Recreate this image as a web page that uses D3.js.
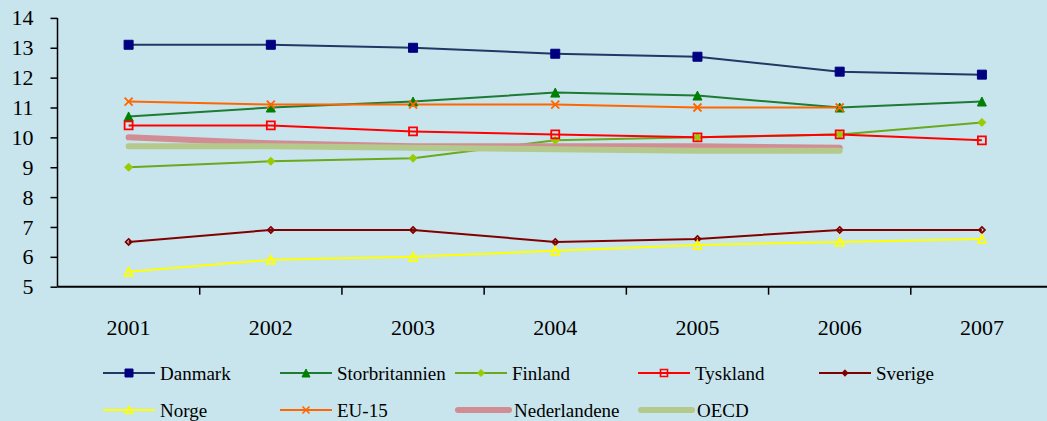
<!DOCTYPE html>
<html>
<head>
<meta charset="utf-8">
<script src="https://cdn.jsdelivr.net/npm/d3@7"></script>
<style>
  html, body { margin: 0; padding: 0; background: #c8e5ed; }
  svg { display: block; }
</style>
</head>
<body>
<svg id="chart" width="1047" height="421"></svg>
<script>
// Years on the category axis
const years = ["2001", "2002", "2003", "2004", "2005", "2006", "2007"];
const yTicks = [5, 6, 7, 8, 9, 10, 11, 12, 13, 14];

// Series values per year (null = no value)
const danmark        = [13.1, 13.1, 13.0, 12.8, 12.7, 12.2, 12.1];
const storbritannien = [10.7, 11.0, 11.2, 11.5, 11.4, 11.0, 11.2];
const finland        = [9.0, 9.2, 9.3, 9.9, 10.0, 10.1, 10.5];
const tyskland       = [10.4, 10.4, 10.2, 10.1, 10.0, 10.1, 9.9];
const sverige        = [6.5, 6.9, 6.9, 6.5, 6.6, 6.9, 6.9];
const norge          = [5.5, 5.9, 6.0, 6.2, 6.4, 6.5, 6.6];
const eu15           = [11.2, 11.1, 11.1, 11.1, 11.0, 11.0, null];
const nederlandene   = [10.0, 9.8, 9.7, 9.7, 9.7, 9.65, null];
const oecd           = [9.7, 9.7, 9.65, 9.6, 9.55, 9.55, null];

const FONT = "'Liberation Serif', Tinos, 'Times New Roman', Times, 'DejaVu Serif', serif";

const series = [
  { name: "Danmark",        values: danmark,        line: "#1f3864", marker: "square",   fill: "#000080", stroke: "#000080", size: 9 },
  { name: "Storbritannien", values: storbritannien, line: "#1e7b34", marker: "triangle", fill: "#008000", stroke: "#008000", size: 9 },
  { name: "Finland",        values: finland,        line: "#6aa81e", marker: "diamond",  fill: "#99cc00", stroke: "#99cc00", size: 8 },
  { name: "Tyskland",       values: tyskland,       line: "#ff0000", marker: "square",   fill: "none",    stroke: "#ff0000", size: 8 },
  { name: "Sverige",        values: sverige,        line: "#800000", marker: "diamond",  fill: "none",    stroke: "#800000", size: 6 },
  { name: "Norge",          values: norge,          line: "#ffff00", marker: "triangle", fill: "none",    stroke: "#ffff00", size: 8 },
  { name: "EU-15",          values: eu15,           line: "#ff6600", marker: "cross",    fill: "none",    stroke: "#ff6600", size: 8 },
  { name: "Nederlandene",   values: nederlandene,   line: "#d28c94", marker: null, thick: true },
  { name: "OECD",           values: oecd,           line: "#b4c98c", marker: null, thick: true }
];

const svg = d3.select("#chart").attr("font-family", FONT);

const x = d3.scaleBand().domain(years).range([57.5, 1053]).paddingInner(0).paddingOuter(0);
const y = d3.scaleLinear().domain([5, 14]).range([286.7, 17.9]);
const cx = d => x(d) + x.bandwidth() / 2;

// Axes
const yAxis = d3.axisLeft(y).tickValues(yTicks).tickSize(7).tickPadding(17).tickFormat(d3.format("d"));
const gy = svg.append("g").attr("transform", "translate(57.5,0)").call(yAxis)
  .attr("font-family", FONT).attr("font-size", 22);
gy.select(".domain").attr("stroke", "#000").attr("stroke-width", 1.5).attr("d", `M0,${y(14)}V${y(5)}`);
gy.selectAll(".tick line").attr("stroke", "#000").attr("stroke-width", 1.5);
gy.selectAll(".tick text").attr("fill", "#000");

const xAxis = d3.axisBottom(x).tickSize(0).tickPadding(33);
const gx = svg.append("g").attr("transform", `translate(0,${y(5)})`).call(xAxis)
  .attr("font-family", FONT).attr("font-size", 22);
gx.select(".domain").attr("stroke", "#000").attr("stroke-width", 2).attr("d", `M57.5,0H1047`);
gx.selectAll(".tick text").attr("fill", "#000");
// Band separator ticks below the category axis
svg.append("g").selectAll("line")
  .data(years.slice(1))
  .join("line")
  .attr("x1", d => x(d)).attr("x2", d => x(d))
  .attr("y1", y(5)).attr("y2", y(5) + 8)
  .attr("stroke", "#000").attr("stroke-width", 1.5);

// Marker shapes
function markerPath(type, s) {
  const h = s / 2;
  switch (type) {
    case "square":   return `M${-h},${-h}H${h}V${h}H${-h}Z`;
    case "triangle": return `M0,${-h}L${h},${h}L${-h},${h}Z`;
    case "diamond":  return `M0,${-h}L${h},0L0,${h}L${-h},0Z`;
    case "cross":    return `M${-h},${-h}L${h},${h}M${h},${-h}L${-h},${h}`;
  }
  return "";
}

const line = d3.line()
  .defined(d => d.v != null)
  .x(d => cx(d.year))
  .y(d => y(d.v));

const plot = svg.append("g");
const ordered = series.filter(s => !s.thick).concat(series.filter(s => s.thick));

ordered.forEach(s => {
  const pts = years.map((yr, i) => ({ year: yr, v: s.values[i] }));
  plot.append("path")
    .datum(pts)
    .attr("fill", "none")
    .attr("stroke", s.line)
    .attr("stroke-width", s.thick ? 6 : 2)
    .attr("stroke-linecap", s.thick ? "round" : "butt")
    .attr("stroke-linejoin", "round")
    .attr("d", line);
});

series.filter(s => s.marker).forEach(s => {
  const pts = years.map((yr, i) => ({ year: yr, v: s.values[i] })).filter(d => d.v != null);
  plot.append("g").selectAll("path")
    .data(pts)
    .join("path")
    .attr("transform", d => `translate(${cx(d.year)},${y(d.v)})`)
    .attr("d", markerPath(s.marker, s.size))
    .attr("fill", s.fill)
    .attr("stroke", s.stroke)
    .attr("stroke-width", s.fill === "none" ? 1.8 : 1);
});

// Legend: two rows of five columns
const legendCols = [103, 280, 455, 638, 819];
const legendRows = [373, 410];
const legend = svg.append("g").attr("font-family", FONT).attr("font-size", 19);
series.forEach((s, i) => {
  const col = i % 5, row = Math.floor(i / 5);
  const lx = legendCols[col], ly = legendRows[row];
  const g = legend.append("g").attr("transform", `translate(${lx},${ly})`);
  const len = s.thick ? 54 : 52;
  g.append("line")
    .attr("x1", s.thick ? 3 : 0).attr("x2", len).attr("y1", 0).attr("y2", 0)
    .attr("stroke", s.line)
    .attr("stroke-width", s.thick ? 6 : 2)
    .attr("stroke-linecap", s.thick ? "round" : "butt");
  if (s.marker) {
    g.append("path")
      .attr("transform", `translate(${len / 2},0)`)
      .attr("d", markerPath(s.marker, s.size - 1))
      .attr("fill", s.fill)
      .attr("stroke", s.stroke)
      .attr("stroke-width", s.fill === "none" ? 1.6 : 1);
  }
  g.append("text")
    .attr("x", len + 5)
    .attr("y", 0)
    .attr("dy", "0.35em")
    .attr("fill", "#000")
    .text(s.name);
});
</script>
</body>
</html>
